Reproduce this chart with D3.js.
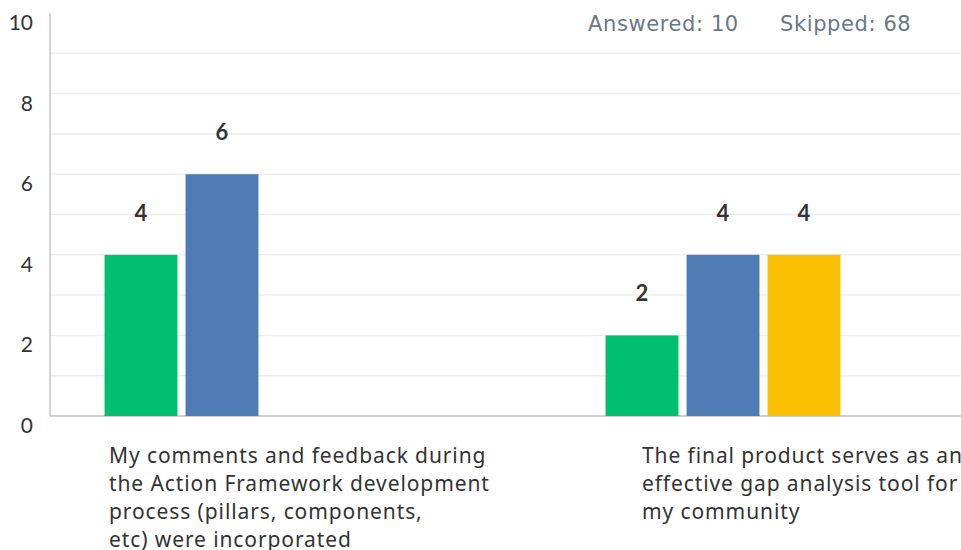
<!DOCTYPE html>
<html>
<head>
<meta charset="utf-8">
<script src="https://cdn.jsdelivr.net/npm/d3@7"></script>
<style>
  body { margin: 0; background: #fff; }
  svg { display: block; }
</style>
</head>
<body>
<script>
// data
var categories = ["q1", "q2"];
var categoryLines = [
  ["My comments and feedback during", "the Action Framework development", "process (pillars, components,", "etc) were incorporated"],
  ["The final product serves as an", "effective gap analysis tool for", "my community"]
];
var seriesNames = ["Agree", "Somewhat agree", "Neutral"];
var seriesColors = ["#00bf6f", "#507cb6", "#f9be00"];
var valuesAgree = [4, 2];
var valuesSomewhat = [6, 4];
var valuesNeutral = [0, 4];
var yTicks = [0, 2, 4, 6, 8, 10];
var answered = 10, skipped = 68;

var seriesValues = [valuesAgree, valuesSomewhat, valuesNeutral];
var labelShift = [-113, -81]; // where the wrapped question text starts, relative to group centre

var width = 961, height = 550;
var svg = d3.select("body").append("svg")
    .attr("width", width)
    .attr("height", height);

var yScale = d3.scaleLinear().domain([0, 10]).range([416, 13]);
var xScale = d3.scalePoint().domain(categories).range([-28.5, 973.5]).padding(0.5);
var xInner = d3.scaleBand().domain(seriesNames).range([-121.5, 121.5]).paddingInner(0.1).paddingOuter(0.05);

// grid lines every unit
svg.append("g")
  .selectAll("line")
  .data(d3.range(1, 10))
  .join("line")
    .attr("x1", 50).attr("x2", width)
    .attr("y1", function(d){ return yScale(d); })
    .attr("y2", function(d){ return yScale(d); })
    .attr("stroke", "#ededed")
    .attr("stroke-width", 1.5);

// y tick labels (sit a bit below their line)
svg.append("g")
  .selectAll("text")
  .data(yTicks)
  .join("text")
    .attr("x", 33)
    .attr("y", function(d){ return yScale(d) + 17; })
    .attr("text-anchor", "end")
    .attr("font-family", "Lato, 'Open Sans', sans-serif")
    .attr("font-size", 21)
    .attr("fill", "#333")
    .text(function(d){ return d; });

// axes lines
svg.append("line")
  .attr("x1", 50).attr("x2", 50)
  .attr("y1", yScale(10)).attr("y2", yScale(0))
  .attr("stroke", "#d4d4d4").attr("stroke-width", 2);
svg.append("line")
  .attr("x1", 50).attr("x2", width)
  .attr("y1", yScale(0)).attr("y2", yScale(0))
  .attr("stroke", "#cfcfcf").attr("stroke-width", 2);

// bars
var rows = [];
categories.forEach(function(c, i){
  seriesNames.forEach(function(s, j){
    if (seriesValues[j][i] > 0) rows.push({cat: c, series: s, color: seriesColors[j], value: seriesValues[j][i]});
  });
});

var barG = svg.append("g");
barG.selectAll("rect")
  .data(rows)
  .join("rect")
    .attr("x", function(d){ return xScale(d.cat) + xInner(d.series); })
    .attr("y", function(d){ return yScale(d.value); })
    .attr("width", xInner.bandwidth())
    .attr("height", function(d){ return yScale(0) - yScale(d.value); })
    .attr("fill", function(d){ return d.color; });

barG.selectAll("text")
  .data(rows)
  .join("text")
    .attr("x", function(d){ return xScale(d.cat) + xInner(d.series) + xInner.bandwidth() / 2; })
    .attr("y", function(d){ return yScale(d.value) - 34; })
    .attr("text-anchor", "middle")
    .attr("font-family", "Lato, 'Open Sans', sans-serif")
    .attr("font-weight", "bold")
    .attr("font-size", 22)
    .attr("fill", "#333")
    .text(function(d){ return d.value; });

// category labels, wrapped
categories.forEach(function(c, i){
  var t = svg.append("text")
    .attr("font-family", "'Noto Sans', 'Open Sans', sans-serif")
    .attr("font-size", 21)
    .attr("letter-spacing", 0.9)
    .attr("fill", "#333");
  categoryLines[i].forEach(function(line, k){
    t.append("tspan")
      .attr("x", xScale(c) + labelShift[i])
      .attr("y", 463 + k * 28)
      .text(line);
  });
});

// answered / skipped
svg.append("text")
  .attr("x", 588).attr("y", 31)
  .attr("font-family", "'DejaVu Sans', sans-serif")
  .attr("font-size", 21)
  .attr("letter-spacing", 0.6)
  .attr("fill", "#6b7787")
  .text("Answered: " + answered);
svg.append("text")
  .attr("x", 780).attr("y", 31)
  .attr("font-family", "'DejaVu Sans', sans-serif")
  .attr("font-size", 21)
  .attr("letter-spacing", 0.6)
  .attr("fill", "#6b7787")
  .text("Skipped: " + skipped);
</script>
</body>
</html>
